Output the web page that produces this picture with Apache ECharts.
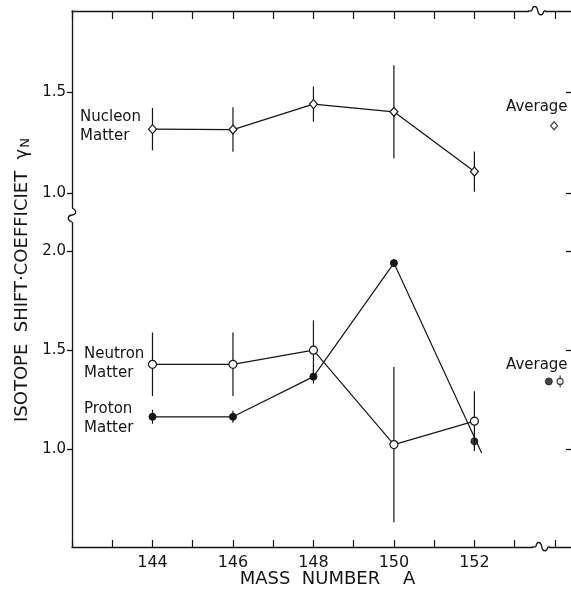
<!DOCTYPE html>
<html>
<head>
<meta charset="utf-8">
<script src="https://cdn.jsdelivr.net/npm/echarts@6/dist/echarts.min.js"></script>
<style>
  html, body { margin: 0; padding: 0; background: #fff; }
  #main { width: 571px; height: 595px; }
</style>
</head>
<body>
<div id="main"></div>
<script>
// values
const massNumbers = [144, 146, 148, 150, 152];
const nucleon = [1.315, 1.313, 1.439, 1.401, 1.105];
const nucleonErr = [0.105, 0.11, 0.087, 0.23, 0.1];
const neutron = [1.429, 1.429, 1.5, 1.025, 1.143];
const neutronErr = [0.16, 0.16, 0.15, 0.39, 0.15];
const proton = [1.165, 1.165, 1.367, 1.938, 1.042];
const protonErr = [0.035, 0.03, 0.035, 0, 0.03];
const protonLineEnd = [152.18, 0.983]; // the drawn proton line runs a bit past 152
const avgNucleon = [153.98, 1.332];
const avgProton = [153.85, 1.343];
const avgNeutron = [154.13, 1.343, 0.03];
const upperTicks = [1.0, 1.5];
const lowerTicks = [1.0, 1.5, 2.0];
const xLabels = [144, 146, 148, 150, 152];

const ink = '#151515';
const font = 'DejaVu Sans';
const chart = echarts.init(document.getElementById('main'));

function yAxes(grid, min, max, ticks) {
  return [{
    gridIndex: grid, type: 'value', position: 'left', min: min, max: max,
    axisLine: { show: true, lineStyle: { color: ink, width: 1.3 } },
    axisTick: { show: true, inside: false, length: 5, customValues: ticks, lineStyle: { color: ink, width: 1.3 } },
    axisLabel: { customValues: ticks, formatter: v => v.toFixed(1), color: ink, fontSize: 15, margin: 6, fontFamily: font },
    splitLine: { show: false }
  }, {
    gridIndex: grid, type: 'value', position: 'right', min: min, max: max,
    axisLine: { show: true, lineStyle: { color: ink, width: 1.3 } },
    axisTick: { show: true, inside: true, length: 9, customValues: ticks, lineStyle: { color: ink, width: 1.3 } },
    axisLabel: { show: false },
    splitLine: { show: false }
  }];
}

function errorBars(values, errs, xi, yi) {
  return {
    type: 'custom', xAxisIndex: xi, yAxisIndex: yi, z: 1, silent: true,
    data: massNumbers.map((m, i) => [m, values[i] - errs[i], values[i] + errs[i]]),
    encode: { x: 0, y: [1, 2] },
    renderItem: function (params, api) {
      const a = api.coord([api.value(0), api.value(1)]);
      const b = api.coord([api.value(0), api.value(2)]);
      return { type: 'line', shape: { x1: a[0], y1: a[1], x2: b[0], y2: b[1] },
        style: { stroke: ink, lineWidth: 1.2 } };
    }
  };
}

const openStyle = { color: '#fff', borderColor: ink, borderWidth: 1.2 };
const fillStyle = { color: ink, borderColor: ink, borderWidth: 1 };

chart.setOption({
  animation: false,
  backgroundColor: '#fff',
  textStyle: { fontFamily: font },
  grid: [
    { left: 72, width: 503, top: 11, height: 204, outerBoundsMode: 'none' },
    { left: 72, width: 503, top: 215, height: 332, outerBoundsMode: 'none' }
  ],
  xAxis: [{
    gridIndex: 0, type: 'value', position: 'top', min: 142, max: 154.5, interval: 1,
    axisLine: { lineStyle: { color: ink, width: 1.3 } },
    axisTick: { inside: true, length: 8, lineStyle: { color: ink, width: 1.2 } },
    axisLabel: { show: false },
    splitLine: { show: false }
  }, {
    gridIndex: 1, type: 'value', position: 'bottom', min: 142, max: 154.5, interval: 1,
    axisLine: { lineStyle: { color: ink, width: 1.3 } },
    axisTick: { inside: true, length: 7, lineStyle: { color: ink, width: 1.2 } },
    axisLabel: { color: ink, fontSize: 16, margin: 8, fontFamily: font,
      formatter: v => xLabels.indexOf(v) >= 0 ? String(v) : '' },
    splitLine: { show: false },
    name: 'MASS  NUMBER    A', nameLocation: 'middle', nameGap: 23, nameMoveOverlap: false,
    nameTextStyle: { color: ink, fontSize: 18, fontFamily: font, padding: [0, 0, 0, 8] }
  }],
  yAxis: yAxes(0, 0.89, 1.9, upperTicks).concat(yAxes(1, 0.51, 2.18, lowerTicks)),
  series: [
    errorBars(nucleon, nucleonErr, 0, 0),
    {
      type: 'line', xAxisIndex: 0, yAxisIndex: 0, z: 3,
      data: massNumbers.map((m, i) => [m, nucleon[i]]),
      symbol: 'diamond', symbolSize: [8, 9], showAllSymbol: true,
      lineStyle: { color: ink, width: 1.2 }, itemStyle: openStyle
    },
    {
      type: 'scatter', xAxisIndex: 0, yAxisIndex: 0, z: 3,
      data: [avgNucleon], symbol: 'diamond', symbolSize: [7, 8], itemStyle: openStyle
    },
    errorBars(neutron, neutronErr, 1, 2),
    errorBars(proton, protonErr, 1, 2),
    {
      type: 'line', xAxisIndex: 1, yAxisIndex: 2, z: 3,
      data: massNumbers.map((m, i) => [m, neutron[i]]),
      symbol: 'circle', symbolSize: 8, showAllSymbol: true,
      lineStyle: { color: ink, width: 1.2 }, itemStyle: openStyle
    },
    {
      type: 'line', xAxisIndex: 1, yAxisIndex: 2, z: 4,
      data: massNumbers.slice(0, 4).map((m, i) => [m, proton[i]])
        .concat([{ value: protonLineEnd, symbol: 'none' }]),
      symbol: 'circle', symbolSize: 7, showAllSymbol: true,
      lineStyle: { color: ink, width: 1.2 }, itemStyle: fillStyle
    },
    {
      type: 'scatter', xAxisIndex: 1, yAxisIndex: 2, z: 4,
      data: [[massNumbers[4], proton[4]]], symbol: 'circle', symbolSize: 7, itemStyle: fillStyle
    },
    {
      type: 'custom', xAxisIndex: 1, yAxisIndex: 2, z: 1, silent: true,
      data: [[avgNeutron[0], avgNeutron[1] - avgNeutron[2], avgNeutron[1] + avgNeutron[2]]],
      encode: { x: 0, y: [1, 2] },
      renderItem: function (params, api) {
        const a = api.coord([api.value(0), api.value(1)]);
        const b = api.coord([api.value(0), api.value(2)]);
        return { type: 'line', shape: { x1: a[0], y1: a[1], x2: b[0], y2: b[1] },
          style: { stroke: ink, lineWidth: 1 } };
      }
    },
    {
      type: 'scatter', xAxisIndex: 1, yAxisIndex: 2, z: 3,
      data: [[avgNeutron[0], avgNeutron[1]]], symbol: 'circle', symbolSize: 6, itemStyle: openStyle
    },
    {
      type: 'scatter', xAxisIndex: 1, yAxisIndex: 2, z: 3,
      data: [avgProton], symbol: 'circle', symbolSize: 7, itemStyle: fillStyle
    }
  ]
});

// axis breaks and text labels
const topY = chart.convertToPixel({ yAxisIndex: 0 }, 1.9);
const botY = chart.convertToPixel({ yAxisIndex: 2 }, 0.51);
const midY = chart.convertToPixel({ yAxisIndex: 0 }, 0.89);
const brkTop = chart.convertToPixel({ xAxisIndex: 0 }, 153.55);
const brkBot = chart.convertToPixel({ xAxisIndex: 1 }, 153.65);
const leftX = chart.convertToPixel({ xAxisIndex: 0 }, 142);
const stroke = { fill: null, stroke: ink, lineWidth: 1.3 };

function hBreak(cx, cy) {
  return [
    { type: 'rect', shape: { x: cx - 8, y: cy - 3, width: 16, height: 6 }, style: { fill: '#fff' }, z: 50 },
    { type: 'line', z: 51, shape: { x1: cx - 9, y1: cy, x2: cx - 5, y2: cy }, style: stroke },
    { type: 'bezierCurve', z: 51, shape: { x1: cx - 5, y1: cy, cpx1: cx - 4, cpy1: cy - 6, cpx2: cx, cpy2: cy - 6, x2: cx + 1, y2: cy }, style: stroke },
    { type: 'bezierCurve', z: 51, shape: { x1: cx + 1, y1: cy, cpx1: cx + 2, cpy1: cy + 5, cpx2: cx + 6, cpy2: cy + 5, x2: cx + 7, y2: cy }, style: stroke },
    { type: 'line', z: 51, shape: { x1: cx + 7, y1: cy, x2: cx + 9, y2: cy }, style: stroke }
  ];
}

const label = (x, y, text) => ({
  type: 'text', x: x, y: y, z: 60,
  style: { text: text, fill: ink, fontSize: 15, fontFamily: font, lineHeight: 19, verticalAlign: 'middle', align: 'left' }
});

chart.setOption({
  graphic: hBreak(brkTop, topY).concat(hBreak(brkBot, botY)).concat([
    { type: 'rect', shape: { x: leftX - 3, y: midY - 7, width: 6, height: 14 }, style: { fill: '#fff' }, z: 50 },
    { type: 'bezierCurve', z: 51, shape: { x1: leftX, y1: midY - 7, cpx1: leftX + 5, cpy1: midY - 5, cpx2: leftX + 5, cpy2: midY - 1, x2: leftX, y2: midY }, style: stroke },
    { type: 'bezierCurve', z: 51, shape: { x1: leftX, y1: midY, cpx1: leftX - 5, cpy1: midY + 1, cpx2: leftX - 5, cpy2: midY + 5, x2: leftX, y2: midY + 7 }, style: stroke },
    label(80, 127, 'Nucleon\nMatter'),
    label(84, 364, 'Neutron\nMatter'),
    label(84, 419, 'Proton\nMatter'),
    label(506, 107, 'Average'),
    label(506, 365, 'Average'),
    {
      type: 'text', x: 22, y: 280, rotation: Math.PI / 2, z: 60,
      style: {
        text: '{t|ISOTOPE  SHIFT·COEFFICIET  γ}{s|N}',
        align: 'center', verticalAlign: 'middle', fill: ink,
        rich: {
          t: { fontSize: 18, fontFamily: font, fill: ink },
          s: { fontSize: 13, fontFamily: font, fill: ink, verticalAlign: 'bottom', padding: [8, 0, 0, 1] }
        }
      }
    }
  ])
});
</script>
</body>
</html>
